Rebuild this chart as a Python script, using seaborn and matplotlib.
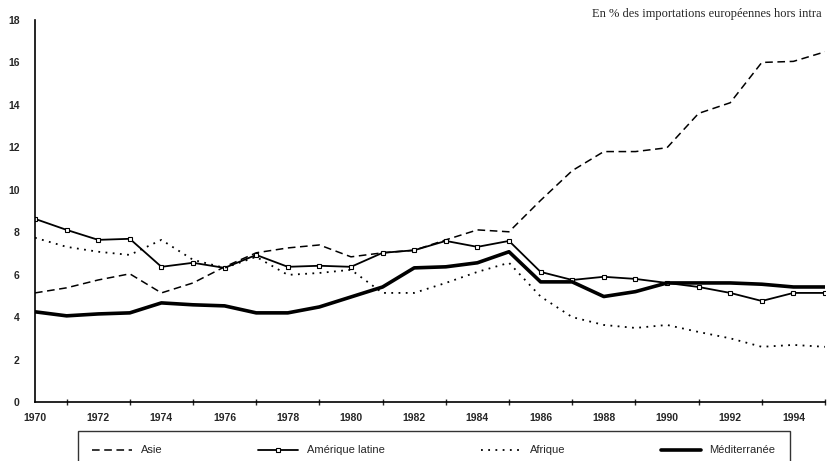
import pandas as pd
import numpy as np
import matplotlib
matplotlib.use("Agg")
import matplotlib.pyplot as plt
import seaborn as sns

# Data (share of extra-EU imports, %)
years = list(range(1970, 1996))
asie = [5.14, 5.38, 5.75, 6.04, 5.14, 5.61, 6.37, 7.03, 7.26, 7.4, 6.84, 7.03, 7.15,
        7.64, 8.11, 8.02, 9.5, 10.9, 11.8, 11.8, 11.98, 13.6, 14.1, 16.0, 16.05, 16.5]
amerique_latine = [8.63, 8.11, 7.64, 7.69, 6.37, 6.56, 6.32, 6.93, 6.37, 6.42, 6.37, 7.03, 7.15,
                   7.59, 7.31, 7.59, 6.13, 5.75, 5.9, 5.8, 5.61, 5.42, 5.14, 4.76, 5.14, 5.14]
afrique = [7.74, 7.31, 7.08, 6.93, 7.64, 6.7, 6.32, 6.84, 5.99, 6.08, 6.23, 5.14, 5.14,
           5.61, 6.13, 6.56, 4.97, 4.0, 3.63, 3.49, 3.63, 3.3, 3.0, 2.6, 2.69, 2.6]
mediterranee = [4.25, 4.06, 4.15, 4.2, 4.67, 4.58, 4.53, 4.2, 4.2, 4.48, 4.95, 5.42, 6.32,
                6.37, 6.56, 7.08, 5.66, 5.66, 4.97, 5.2, 5.61, 5.61, 5.61, 5.55, 5.42, 5.42]
labels = ["Asie", "Amérique latine", "Afrique", "Méditerranée"]
xtick_years = list(range(1970, 1996, 2))

df = pd.DataFrame({"annee": years, "Asie": asie, "Amérique latine": amerique_latine,
                   "Afrique": afrique, "Méditerranée": mediterranee})

sns.set_style("white")
plt.rcParams['font.family'] = ['Liberation Sans', 'DejaVu Sans']

fig = plt.figure(figsize=(8.27, 4.61), dpi=100)
ax = fig.add_axes([35 / 827, 1 - 402 / 461, 790 / 827, (402 - 20) / 461])

sns.lineplot(data=df, x="annee", y="Asie", ax=ax, color="black", lw=1.1,
             linestyle=(0, (5, 3)), label="Asie")
sns.lineplot(data=df, x="annee", y="Amérique latine", ax=ax, color="black", lw=1.3,
             marker="s", markersize=3.5, markerfacecolor="white", markeredgecolor="black",
             markeredgewidth=0.8, label="Amérique latine")
sns.lineplot(data=df, x="annee", y="Afrique", ax=ax, color="black", lw=1.3,
             linestyle=(0, (1, 3)), label="Afrique")
sns.lineplot(data=df, x="annee", y="Méditerranée", ax=ax, color="black", lw=2.6,
             label="Méditerranée")

ax.set_xlim(1970, 1995)
ax.set_ylim(0, 18)
ax.set_yticks(range(0, 19, 2))
ax.set_xticks(xtick_years)
ax.set_xticks(range(1971, 1996, 2), minor=True)
ax.set_xlabel("")
ax.set_ylabel("")
for side in ["top", "right"]:
    ax.spines[side].set_visible(False)
for side in ["left", "bottom"]:
    ax.spines[side].set_color("black")
    ax.spines[side].set_linewidth(1.2)
ax.tick_params(axis="y", direction="inout", length=6, width=1.2, labelsize=7.5, pad=8)
ax.tick_params(axis="x", which="major", length=0, labelsize=7.5, pad=8)
ax.tick_params(axis="x", which="minor", direction="inout", length=5, width=1, bottom=True)
for t in ax.get_xticklabels() + ax.get_yticklabels():
    t.set_fontweight("bold")

ax.get_legend().remove()
handles, _ = ax.get_legend_handles_labels()
leg = fig.legend(handles, labels, loc="upper left", ncol=4, mode="expand",
                 bbox_to_anchor=(78 / 827, -0.1, 712 / 827, 0.1 + 1 - 431 / 461),
                 frameon=True, fancybox=False, edgecolor="black", fontsize=8,
                 handlelength=3.6, handletextpad=0.8, borderaxespad=0,
                 borderpad=1.3, columnspacing=1.5)
leg.get_frame().set_linewidth(1.0)

fig.text(0.994, 1 - 14 / 461, "En % des importations européennes hors intra",
         ha="right", va="center", fontsize=9, family=["Liberation Serif", "DejaVu Serif"])

fig.savefig("out.png", dpi=100)
